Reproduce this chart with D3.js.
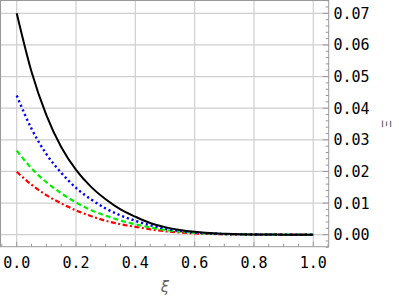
<!DOCTYPE html>
<html><head><meta charset="utf-8">
<script src="https://cdn.jsdelivr.net/npm/d3@7"></script>
<style>body{margin:0;background:#fff}svg{display:block}</style>
</head><body>
<script>
const xs = [0,0.05,0.1,0.15,0.2,0.25,0.3,0.35,0.4,0.45,0.5,0.55,0.6,0.65,0.7,0.75,0.8,0.85,0.9,0.95,1.0];
const black = [0.0700,0.0515,0.0378,0.0277,0.0205,0.0152,0.0112,0.0080,0.0057,0.0037,0.0024,0.0015,0.0009,0.0005,0.0003,0.00015,0.00008,0.00004,0.00002,0.00001,0];
const blue  = [0.0440,0.0335,0.0255,0.0196,0.0148,0.0112,0.0083,0.0061,0.0044,0.0030,0.0019,0.0012,0.0007,0.0004,0.0002,0.0001,0.00005,0.00002,0.00001,0,0];
const green = [0.0266,0.0210,0.0166,0.0131,0.0102,0.0078,0.0060,0.0045,0.0033,0.0023,0.0015,0.0010,0.0006,0.00035,0.0002,0.0001,0.00005,0.00002,0.00001,0,0];
const red   = [0.0199,0.0158,0.0125,0.0099,0.0077,0.0059,0.0044,0.0033,0.0025,0.0017,0.0011,0.0007,0.0004,0.00025,0.00015,0.00008,0.00004,0.00002,0.00001,0,0];
const xTicks = [0,0.2,0.4,0.6,0.8,1.0];
const yTicks = [0,0.01,0.02,0.03,0.04,0.05,0.06,0.07];
const xLabel = "ξ", yLabel = "Ξ";

const W=399,H=298;
const svg=d3.select("body").append("svg").attr("width",W).attr("height",H);
const x=d3.scaleLinear().domain([0,1]).range([16.7,313.3]);
const y=d3.scaleLinear().domain([0,0.07]).range([234.7,13.3]);
const L=0.5,T=0.5,R=328.7,B=246.7;

// grid
svg.append("g").selectAll("line").data(xTicks).join("line")
  .attr("x1",d=>x(d)).attr("x2",d=>x(d)).attr("y1",T).attr("y2",B)
  .attr("stroke","#cfcfcf").attr("stroke-width",1.2);
svg.append("g").selectAll("line").data(yTicks).join("line")
  .attr("y1",d=>y(d)).attr("y2",d=>y(d)).attr("x1",L).attr("x2",R)
  .attr("stroke","#cfcfcf").attr("stroke-width",1.2);

// curves
const line=d3.line().x((d,i)=>x(xs[i])).y(d=>y(d)).curve(d3.curveMonotoneX);
const series=[
  {v:red,c:"#ff0000",dash:"5,2.5,2,2.5",w:2.2},
  {v:green,c:"#00ee00",dash:"5,3",w:2.2},
  {v:blue,c:"#0000ff",dash:"2.2,2.8",w:2.4},
  {v:black,c:"#000000",dash:null,w:2}
];
series.forEach(s=>{
  svg.append("path").attr("d",line(s.v)).attr("fill","none")
    .attr("stroke",s.c).attr("stroke-width",s.w)
    .attr("stroke-dasharray",s.dash);
});

// frame
svg.append("rect").attr("x",L).attr("y",T).attr("width",R-L).attr("height",B-T)
  .attr("fill","none").attr("stroke","#999").attr("stroke-width",1);

// bottom ticks (inward)
const xMinor=d3.range(-1,22).map(i=>i*0.05);
svg.append("g").selectAll("line").data(xMinor).join("line")
  .attr("x1",d=>x(d)).attr("x2",d=>x(d)).attr("y1",B)
  .attr("y2",(d,i)=>B-((i-1)%4===0?5:3))
  .attr("stroke","#999").attr("stroke-width",1);
// right ticks (inward)
const yMinor=d3.range(-2,38).map(i=>i*0.002);
svg.append("g").selectAll("line").data(yMinor).join("line")
  .attr("y1",d=>y(d)).attr("y2",d=>y(d)).attr("x1",R)
  .attr("x2",(d,i)=>R-((i-2)%5===0?6:3))
  .attr("stroke","#999").attr("stroke-width",1);

// labels
const font="'DejaVu Sans Mono', monospace";
svg.append("g").selectAll("text").data(xTicks).join("text")
  .attr("x",d=>x(d)).attr("y",267.5).attr("text-anchor","middle")
  .attr("font-family",font).attr("font-size",15).text(d=>d.toFixed(1));
svg.append("g").selectAll("text").data(yTicks).join("text")
  .attr("x",333.5).attr("y",d=>y(d)+5.5)
  .attr("font-family",font).attr("font-size",15).text(d=>d.toFixed(2));

svg.append("text").attr("x",165).attr("y",292).attr("text-anchor","middle")
  .attr("font-family","'DejaVu Sans', sans-serif").attr("font-style","italic")
  .attr("font-size",15).attr("fill","#666").text(xLabel);
svg.append("text").attr("transform","translate(382,124) rotate(90)")
  .attr("text-anchor","middle")
  .attr("font-family","'Liberation Sans', sans-serif")
  .attr("font-size",12).attr("fill","#555").text(yLabel);
</script>
</body></html>
